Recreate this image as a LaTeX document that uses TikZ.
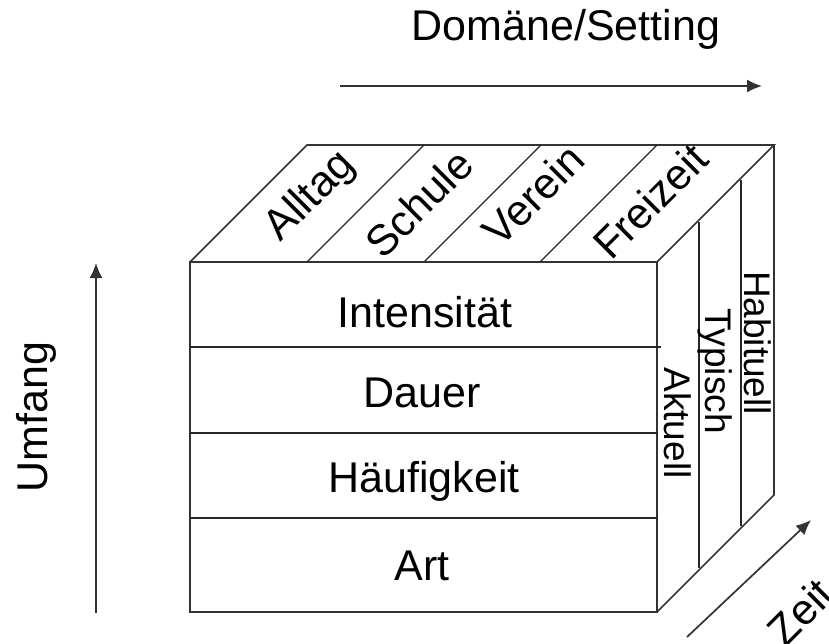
\documentclass[tikz,border=0pt]{standalone}
\usepackage{fontspec}
\setmainfont{Liberation Sans}
\usetikzlibrary{arrows.meta}
\begin{document}
\begin{tikzpicture}[x=1pt,y=-1pt,
  edge/.style={line width=1.6pt, draw=black!80, line join=miter},
  thin/.style={line width=1.3pt, draw=black!85},
  lbl/.style={font=\fontsize{43}{50}\selectfont, inner sep=0pt},
  slbl/.style={font=\fontsize{37}{44}\selectfont, inner sep=0pt},
  axis/.style={line width=1.7pt, draw=black!80, -{Latex[length=15pt,width=13pt]}}]
\useasboundingbox (0,0) rectangle (829,643);
% cube corners
\coordinate (A) at (190,262);
\coordinate (B) at (657,262);
\coordinate (C) at (657,612);
\coordinate (D) at (190,612);
\coordinate (E) at (307,145);
\coordinate (F) at (774,145);
\coordinate (G) at (774,495);
% front face
\draw[edge] (A) -- (B) -- (C) -- (D) -- cycle;
% top face
\draw[edge] (A) -- (E) -- (F) -- (B);
% right face
\draw[edge] (F) -- (G) -- (C);
% front dividers
\coordinate (h1l) at (190,347); \coordinate (h1r) at (661,347);
\coordinate (h2l) at (190,433); \coordinate (h2r) at (658,433);
\coordinate (h3l) at (190,518); \coordinate (h3r) at (658,518);
\draw[thin] (h1l) -- (h1r);
\draw[thin] (h2l) -- (h2r);
\draw[thin] (h3l) -- (h3r);
% top dividers
\coordinate (t1f) at (307,262); \coordinate (t1b) at (424,145);
\coordinate (t2f) at (424,262); \coordinate (t2b) at (541,145);
\coordinate (t3f) at (540,262); \coordinate (t3b) at (657,145);
\draw[thin] (t1f) -- (t1b);
\draw[thin] (t2f) -- (t2b);
\draw[thin] (t3f) -- (t3b);
% right dividers
\coordinate (r1t) at (699,222); \coordinate (r1b) at (699,568);
\coordinate (r2t) at (741,180); \coordinate (r2b) at (741,526);
\draw[thin] (r1t) -- (r1b);
\draw[thin] (r2t) -- (r2b);
% front labels
\node[lbl, anchor=base] (int) at (425,327) {Intensität};
\node[lbl, anchor=base] (dau) at (422,407) {Dauer};
\node[lbl, anchor=base] (hae) at (424,492) {Häufigkeit};
\node[lbl, anchor=base] (art) at (422,580) {Art};
% top labels
\node[lbl, rotate=45] (all) at (311,197) {Alltag};
\node[lbl, rotate=45] (sch) at (419,203) {Schule};
\node[lbl, rotate=45] (ver) at (533,195) {Verein};
\node[lbl, rotate=45] (fre) at (650,201) {Freizeit};
% right labels
\node[slbl, rotate=-90] (hab) at (758,343) {Habituell};
\node[slbl, rotate=-90] (typ) at (715,371) {Typisch};
\node[slbl, rotate=-90] (akt) at (678,423) {Aktuell};
% axes
\coordinate (u0) at (96,613); \coordinate (u1) at (96,263);
\draw[axis] (u0) -- (u1);
\node[lbl, rotate=90] (umf) at (36,417) {Umfang};
\coordinate (d0) at (340,86); \coordinate (d1) at (762,86);
\draw[axis] (d0) -- (d1);
\node[lbl, anchor=base] (dom) at (566,40) {Domäne/Setting};
\coordinate (z0) at (687,637); \coordinate (z1) at (811,520);
\draw[axis] (z0) -- (z1);
\node[lbl, rotate=45] (zei) at (800,612) {Zeit};
\end{tikzpicture}
\end{document}
